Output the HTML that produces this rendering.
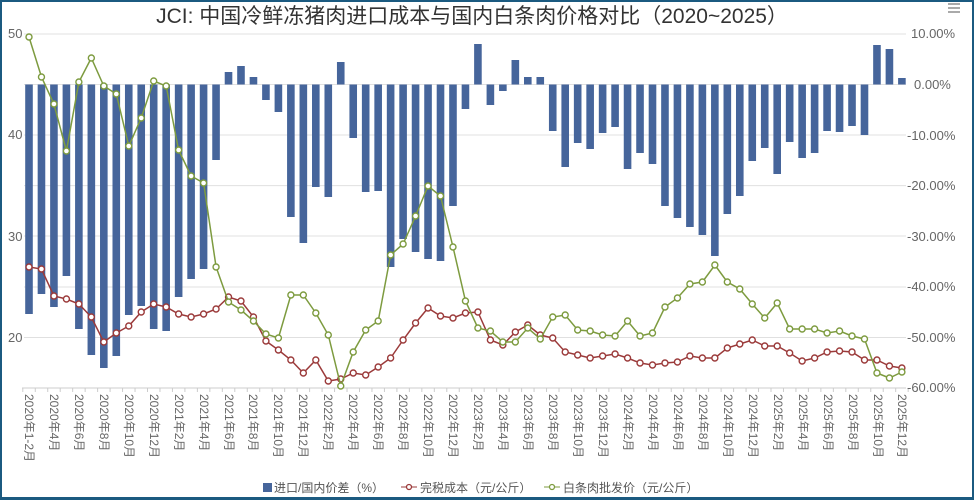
<!DOCTYPE html>
<html><head><meta charset="utf-8"><style>
html,body{margin:0;padding:0;background:#fff}
#f{position:absolute;left:0;top:0;width:970px;height:495px;border:2px solid #1b5a80;border-width:2px 2px 3px 2px;}
svg{position:absolute;left:0;top:0}
text{font-family:"Liberation Sans","Noto Sans CJK SC",sans-serif}
</style></head><body>
<div id="f"></div>
<svg id="s" width="974" height="499" xmlns="http://www.w3.org/2000/svg">
<g id="grid" stroke="#e0e0e0" stroke-width="1"></g>
<g id="bars" fill="#46659b"></g>
<g id="lines"></g>
<text x="472" y="23" text-anchor="middle" font-size="21" fill="#333">JCI: 中国冷鲜冻猪肉进口成本与国内白条肉价格对比（2020~2025）</text>
<g font-size="13" fill="#666">
<text x="8" y="38">50</text><text x="8" y="139">40</text><text x="8" y="241">30</text><text x="8" y="342">20</text>
</g>
<g font-size="13" fill="#666">
<text x="911" y="38">10.00%</text><text x="914" y="89">0.00%</text>
<text x="907" y="140">-10.00%</text><text x="907" y="190">-20.00%</text>
<text x="907" y="241">-30.00%</text><text x="907" y="291">-40.00%</text>
<text x="907" y="342">-50.00%</text><text x="907" y="392">-60.00%</text>
</g>
<g stroke="#aaa" stroke-width="2"><line x1="948" y1="4" x2="960" y2="4"/><line x1="948" y1="8" x2="960" y2="8"/><line x1="948" y1="12" x2="960" y2="12"/></g>
<g font-size="12" fill="#555">
<rect x="263" y="483" width="9" height="9" fill="#46659b"/>
<text x="274" y="492">进口/国内价差（%）</text>
<line x1="401" y1="487" x2="417" y2="487" stroke="#9b3a3a"/><circle cx="409" cy="487" r="2.5" fill="#fff" stroke="#9b3a3a" stroke-width="1.3"/>
<text x="420" y="492">完税成本（元/公斤）</text>
<line x1="544" y1="487" x2="560" y2="487" stroke="#7d9b3f"/><circle cx="552" cy="487" r="2.5" fill="#fff" stroke="#7d9b3f" stroke-width="1.3"/>
<text x="563" y="492">白条肉批发价（元/公斤）</text>
</g>
<g id="xlab" font-size="12" fill="#666">
<text transform="translate(29,394) rotate(90)" dominant-baseline="central">2020年1-2月</text>
<text transform="translate(54,394) rotate(90)" dominant-baseline="central">2020年4月</text>
<text transform="translate(79,394) rotate(90)" dominant-baseline="central">2020年6月</text>
<text transform="translate(104,394) rotate(90)" dominant-baseline="central">2020年8月</text>
<text transform="translate(129,394) rotate(90)" dominant-baseline="central">2020年10月</text>
<text transform="translate(154,394) rotate(90)" dominant-baseline="central">2020年12月</text>
<text transform="translate(179,394) rotate(90)" dominant-baseline="central">2021年2月</text>
<text transform="translate(204,394) rotate(90)" dominant-baseline="central">2021年4月</text>
<text transform="translate(229,394) rotate(90)" dominant-baseline="central">2021年6月</text>
<text transform="translate(253,394) rotate(90)" dominant-baseline="central">2021年8月</text>
<text transform="translate(278,394) rotate(90)" dominant-baseline="central">2021年10月</text>
<text transform="translate(303,394) rotate(90)" dominant-baseline="central">2021年12月</text>
<text transform="translate(328,394) rotate(90)" dominant-baseline="central">2022年2月</text>
<text transform="translate(353,394) rotate(90)" dominant-baseline="central">2022年4月</text>
<text transform="translate(378,394) rotate(90)" dominant-baseline="central">2022年6月</text>
<text transform="translate(403,394) rotate(90)" dominant-baseline="central">2022年8月</text>
<text transform="translate(428,394) rotate(90)" dominant-baseline="central">2022年10月</text>
<text transform="translate(453,394) rotate(90)" dominant-baseline="central">2022年12月</text>
<text transform="translate(478,394) rotate(90)" dominant-baseline="central">2023年2月</text>
<text transform="translate(503,394) rotate(90)" dominant-baseline="central">2023年4月</text>
<text transform="translate(528,394) rotate(90)" dominant-baseline="central">2023年6月</text>
<text transform="translate(553,394) rotate(90)" dominant-baseline="central">2023年8月</text>
<text transform="translate(578,394) rotate(90)" dominant-baseline="central">2023年10月</text>
<text transform="translate(603,394) rotate(90)" dominant-baseline="central">2023年12月</text>
<text transform="translate(628,394) rotate(90)" dominant-baseline="central">2024年2月</text>
<text transform="translate(653,394) rotate(90)" dominant-baseline="central">2024年4月</text>
<text transform="translate(678,394) rotate(90)" dominant-baseline="central">2024年6月</text>
<text transform="translate(703,394) rotate(90)" dominant-baseline="central">2024年8月</text>
<text transform="translate(728,394) rotate(90)" dominant-baseline="central">2024年10月</text>
<text transform="translate(753,394) rotate(90)" dominant-baseline="central">2024年12月</text>
<text transform="translate(778,394) rotate(90)" dominant-baseline="central">2025年2月</text>
<text transform="translate(803,394) rotate(90)" dominant-baseline="central">2025年4月</text>
<text transform="translate(828,394) rotate(90)" dominant-baseline="central">2025年6月</text>
<text transform="translate(853,394) rotate(90)" dominant-baseline="central">2025年8月</text>
<text transform="translate(878,394) rotate(90)" dominant-baseline="central">2025年10月</text>
<text transform="translate(902,394) rotate(90)" dominant-baseline="central">2025年12月</text>
</g>
</svg>
<script>
var NS="http://www.w3.org/2000/svg";
function el(p,t,a){var e=document.createElementNS(NS,t);for(var k in a)e.setAttribute(k,a[k]);document.getElementById(p).appendChild(e);return e;}
[34,84.5,135,185.6,236,287,337.5].forEach(function(y){el("grid","line",{x1:24,x2:906,y1:y,y2:y});});
el("grid","line",{x1:22,x2:906,y1:388,y2:388,stroke:"#ccc"});
var X=function(i){return 29+12.47*i;};
for(var i=0;i<=71;i++){var x=22.8+12.47*i;el("grid","line",{x1:x,x2:x,y1:388,y2:392,stroke:"#ccc"});}
var bar=[314,294,307,276,329,355,368,356,315,306,329,331,297,279,269,160,72,66,77,100,112,217,243,187,197,62,138,192,191,267,239,252,259,261,206,109,44,105,91,60,77,77,131,167,143,149,133,127,169,153,164,206,218,227,235,256,214,196,161,148,174,142,158,153,131,132,126,135,45,49,78];
var g=[37,77,104,151,82,58,86,94,146,118,81,86,150,176,183,267,302,310,321,334,338,295,295,313,335,386,352,330,321,255,244,216,186,196,247,301,328,331,342,342,328,339,317,315,330,331,335,336,321,336,333,307,298,284,282,265,282,289,304,318,303,329,329,329,333,331,336,339,373,378,372];
var r=[267,269,296,299,304,317,342,333,326,312,304,307,314,317,314,309,297,301,317,341,350,360,373,360,381,379,373,375,367,358,340,323,308,316,318,313,312,340,345,332,325,335,338,352,355,358,356,354,358,363,365,363,362,356,358,358,348,344,340,346,346,353,361,358,352,351,352,360,360,366,368];
bar.forEach(function(b,i){var x=X(i)-3.8;var y1=Math.min(b,84.5),y2=Math.max(b,84.5);el("bars","rect",{x:x,y:y1,width:7.6,height:y2-y1});});
function ser(d,c){var p=d.map(function(v,i){return X(i).toFixed(1)+","+v;}).join(" ");
el("lines","polyline",{points:p,fill:"none",stroke:c,"stroke-width":1.5});
d.forEach(function(v,i){el("lines","circle",{cx:X(i),cy:v,r:3,fill:"#fff",stroke:c,"stroke-width":1.4});});}
ser(r,"#9b3a3a");ser(g,"#7d9b3f");
</script>
</body></html>
